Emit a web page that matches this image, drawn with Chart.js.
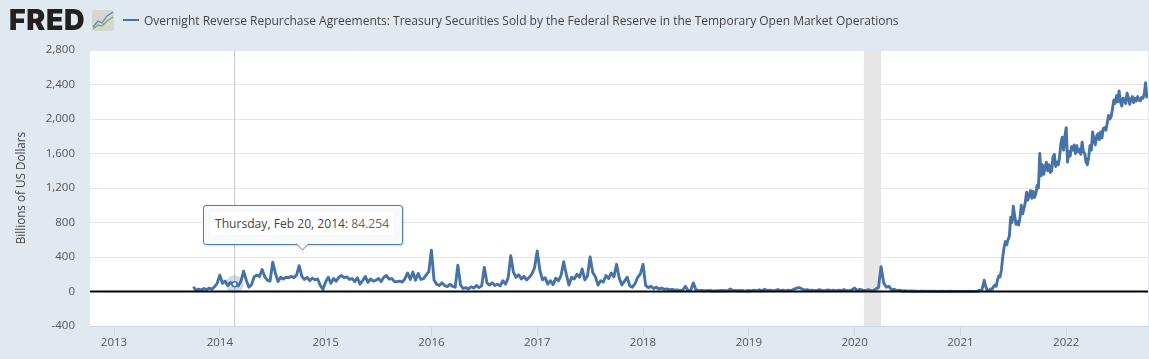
<!DOCTYPE html>
<html><head><meta charset="utf-8">
<script src="https://cdn.jsdelivr.net/npm/chart.js@4"></script>
<style>
html,body{margin:0;padding:0;background:#e1e9f0;width:1149px;height:359px;overflow:hidden}
#wrap{position:relative;width:1149px;height:359px}
canvas{position:absolute;left:0;top:0}
#logo{position:absolute;left:9px;top:-1px;font:900 28.5px/42px Inter,"Liberation Sans",sans-serif;color:#231f20;letter-spacing:0.6px}
#icon{position:absolute;left:92px;top:10px}
#swatch{position:absolute;left:123px;top:19px;width:16px;height:2px;background:#4572a7}
#title{position:absolute;left:144px;top:12px;font:12px/17px "Open Sans",sans-serif;color:#444;white-space:nowrap}
#tip{position:absolute;left:203px;top:205px;width:198px;height:38px;border:1px solid #4f7bae;border-radius:3px;background:#f8f9fa;box-shadow:1px 1px 2px rgba(0,0,0,.15)}
#tip span.t{position:absolute;left:7px;top:6px;padding:0 4px;height:23px;background:#fff;font:12.1px/23px "Open Sans",sans-serif;color:#444;white-space:nowrap}
#tip i{font-style:normal;color:#666}
</style></head>
<body><div id="wrap">
<canvas id="c" width="1149" height="359"></canvas>
<div id="logo">FRED</div>
<svg id="icon" width="22" height="22" viewBox="0 0 22 22"><rect x="0" y="0" width="22" height="21" rx="2" fill="#d5d5d2"/><polyline points="1,17 6,11 10,13 15,6 21,2" fill="none" stroke="#5f86b3" stroke-width="1.2"/><polyline points="1,19 6,15 10,16 15,11 21,7" fill="none" stroke="#7fa55a" stroke-width="1.2"/></svg>
<div id="swatch"></div>
<div id="title">Overnight Reverse Repurchase Agreements: Treasury Securities Sold by the Federal Reserve in the Temporary Open Market Operations</div>
<div id="tip"><span class="t">Thursday, Feb 20, 2014: <i>84.254</i></span></div>
<svg id="caret" style="position:absolute;left:296px;top:243px;width:13px;height:8px" viewBox="0 0 13 8"><polyline points="0,0.5 6.5,7 13,0.5" fill="#f8f9fa" stroke="#4f7bae"/></svg>
</div>
<script>
const seriesName = "Overnight Reverse Repurchase Agreements";
const yTickLabels = [-400,0,400,800,1200,1600,2000,2400,2800];
const xTickYears = [2013,2014,2015,2016,2017,2018,2019,2020,2021,2022];
const recessionYears = [2020.085,2020.25];
const hoverYear = 2014.14;
const hoverValue = 84.254;
// values in billions of US dollars: about 40 readings per year to 2020, 80 per year after
const firstYearStart = 2013.75;
const v2013 = [55,12,28,15,35,20,40,28,55,95];
const v2014 = [190,95,120,70,105,84,100,65,120,235,130,50,80,170,190,175,255,170,130,120,340,215,115,165,145,165,160,175,160,190,300,175,140,165,125,155,135,145,70,25];
const v2015 = [110,165,95,150,120,165,185,160,170,140,150,115,160,85,125,175,105,145,120,130,150,115,165,185,145,150,115,115,120,110,150,215,140,225,130,210,140,150,190,230];
const v2016 = [480,130,85,70,100,70,55,85,60,50,305,75,35,45,30,55,40,70,45,65,280,100,75,100,70,85,65,125,85,155,415,225,165,195,145,175,135,165,205,275];
const v2017 = [470,245,135,160,85,125,80,155,125,185,345,200,75,165,145,200,165,260,135,180,400,220,170,75,125,110,185,150,215,170,315,155,75,120,165,65,50,90,165,205];
const v2018 = [315,70,45,60,35,50,30,40,25,30,20,25,15,18,10,15,60,12,12,100,20,10,12,8,10,12,8,6,10,8,12,8,8,30,10,12,8,12,8,6];
const v2019 = [12,6,16,8,20,8,26,12,15,8,12,22,10,14,8,16,10,26,38,45,32,16,22,12,16,10,14,20,8,12,18,10,14,8,16,10,22,10,12,18];
const v2020 = [40,14,24,15,10,20,12,8,30,45,288,100,50,60,20,25,10,15,6,8,4,6,3,5,2,4,3,2,4,2,3,1,2,3,1,2,3,1,2,1];
const v2021 = [1,2,1,1,2,1,2,3,1,2,1,2,1,3,15,8,14,60,130,70,20,12,18,30,25,55,75,60,130,180,170,250,400,510,580,540,600,640,860,800,990,880,780,810,770,850,1000,900,960,1030,1150,1060,1120,1170,1080,1160,1090,1130,1230,1200,1600,1340,1470,1360,1440,1500,1400,1470,1380,1400,1560,1590,1450,1500,1470,1560,1720,1790,1640,1800];
const v2022 = [1900,1500,1620,1570,1680,1640,1700,1600,1690,1620,1650,1590,1730,1620,1600,1500,1470,1560,1690,1640,1850,1750,1700,1800,1830,1760,1850,1780,1890,1900,1870,1950,2040,2000,2030,2120,2220,2180,2270,2200,2325,2200,2150,2240,2230,2180,2300,2250,2170,2230,2260,2190,2240,2210,2260,2220,2210,2250,2240,2290,2420,2240];

const toPoints = (vals, start, perYear) => vals.map((y,i)=>({x:start+i/perYear,y}));
const seriesPoints = [].concat(
  toPoints(v2013,firstYearStart,40),toPoints(v2014,2014,40),toPoints(v2015,2015,40),toPoints(v2016,2016,40),
  toPoints(v2017,2017,40),toPoints(v2018,2018,40),toPoints(v2019,2019,40),toPoints(v2020,2020,40),
  toPoints(v2021,2021,80),toPoints(v2022,2022,80));

const xMin = 2012.773, xMax = 2022.773;
const yMin = yTickLabels[0], yMax = yTickLabels[yTickLabels.length-1];

const plotBg = {id:'plotBg',beforeDraw(ch){const a=ch.chartArea,c=ch.ctx;c.save();c.fillStyle='#fff';c.fillRect(a.left,a.top,a.width,a.height);c.restore();}};

new Chart(document.getElementById('c'),{
  type:'line',
  data:{datasets:[
    {label:'zero',data:[{x:xMin,y:0},{x:xMax,y:0}],borderColor:'#000',borderWidth:2,pointRadius:0,order:0},
    {label:'marker',data:[{x:hoverYear,y:hoverValue}],showLine:false,pointRadius:2.5,pointBackgroundColor:'#fff',pointBorderColor:'#4572a7',pointBorderWidth:1.5,order:1},
    {label:'halo',data:[{x:hoverYear,y:hoverValue}],showLine:false,pointRadius:9,pointBackgroundColor:'rgba(69,114,167,.25)',pointBorderWidth:0,order:2},
    {label:seriesName,data:seriesPoints,borderColor:'#4572a7',borderWidth:2.9,pointRadius:0,tension:0,borderJoinStyle:'round',order:3},
    {label:'crosshair',data:[{x:hoverYear,y:yMin},{x:hoverYear,y:yMax}],borderColor:'#c4c4c4',borderWidth:1,pointRadius:0,order:4},
    {label:'recession',data:recessionYears.map(x=>({x,y:yMax})),borderWidth:0,pointRadius:0,backgroundColor:'#e6e6e6',fill:{target:{value:yMin}},order:5}
  ]},
  options:{
    responsive:false,animation:false,
    layout:{autoPadding:false,padding:{left:0,right:1,top:50,bottom:0}},
    plugins:{legend:{display:false},tooltip:{enabled:false},title:{display:false}},
    scales:{
      x:{type:'linear',min:xMin,max:xMax,
        afterBuildTicks(s){s.ticks=xTickYears.map(value=>({value}));},
        afterFit(s){s.height=33;s.paddingLeft=0;s.paddingRight=0;},
        grid:{drawOnChartArea:false,drawTicks:true,tickLength:10,tickColor:'#ccd6eb',tickWidth:1},
        border:{color:'#ccd6eb',width:1},
        ticks:{autoSkip:false,maxRotation:0,padding:0,color:'#555',font:{family:'"Open Sans"',size:11.5},callback:v=>String(v)}},
      y:{min:yMin,max:yMax,
        afterBuildTicks(s){s.ticks=yTickLabels.map(value=>({value}));},
        afterFit(s){s.width=90;},
        grid:{color:'#e6e6e6',lineWidth:1,drawTicks:false},
        border:{display:false},
        title:{display:true,text:'Billions of US Dollars',color:'#444',font:{family:'"Open Sans"',size:11.7},padding:{top:15,bottom:0}},
        ticks:{autoSkip:false,padding:15,color:'#555',font:{family:'"Open Sans"',size:11.5},callback:v=>v.toLocaleString('en-US')}}
    }
  },
  plugins:[plotBg]
});
</script>
</body></html>
